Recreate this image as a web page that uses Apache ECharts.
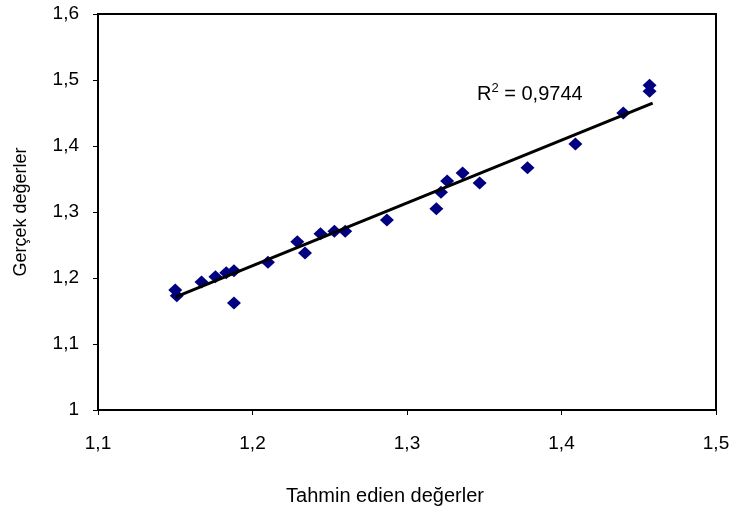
<!DOCTYPE html>
<html>
<head>
<meta charset="utf-8">
<style>
  html, body { margin: 0; padding: 0; background: #fff; }
  #chart { width: 734px; height: 514px; }
</style>
<script src="https://cdn.jsdelivr.net/npm/echarts@6/dist/echarts.min.js"></script>
</head>
<body>
<div id="chart"></div>
<script>
  // predicted (x) vs actual (y) values
  var predicted = [1.150, 1.151, 1.167, 1.176, 1.183, 1.188, 1.188, 1.210, 1.229, 1.234,
    1.244, 1.253, 1.260, 1.287, 1.319, 1.322, 1.326, 1.336, 1.347, 1.378,
    1.409, 1.440, 1.457, 1.457]
  var actual = [1.182, 1.173, 1.194, 1.202, 1.208, 1.211, 1.162, 1.224, 1.255, 1.238,
    1.267, 1.271, 1.271, 1.288, 1.305, 1.330, 1.347, 1.359, 1.344, 1.367,
    1.403, 1.450, 1.492, 1.483]
  // linear trend line end points
  var trendX = [1.150, 1.459]
  var trendY = [1.171, 1.465]
  var rSquared = '0,9744'

  var points = predicted.map(function (x, i) { return [x, actual[i]] })
  var trend = trendX.map(function (x, i) { return [x, trendY[i]] })

  function fmt(v) {
    return String(Math.round(v * 10) / 10).replace('.', ',')
  }

  var font = 'Liberation Sans, Arial, sans-serif'
  var chart = echarts.init(document.getElementById('chart'))
  chart.setOption({
    animation: false,
    textStyle: { fontFamily: font },
    grid: {
      left: 98,
      right: 18,
      top: 14,
      bottom: 104,
      show: true,
      borderColor: '#000',
      borderWidth: 2
    },
    xAxis: {
      type: 'value',
      min: 1.1,
      max: 1.5,
      interval: 0.1,
      name: 'Tahmin edien değerler',
      nameLocation: 'middle',
      nameGap: 76,
      nameTextStyle: { fontSize: 20, color: '#000', fontFamily: font, padding: [0, 44, 0, 0] },
      axisLine: { lineStyle: { color: '#000', width: 2 } },
      axisTick: { show: true, length: 5, lineStyle: { color: '#000', width: 1 } },
      axisLabel: { margin: 24, fontSize: 19, color: '#000', fontFamily: font, formatter: fmt },
      splitLine: { show: false }
    },
    yAxis: {
      type: 'value',
      min: 1,
      max: 1.6,
      interval: 0.1,
      name: 'Gerçek değerler',
      nameLocation: 'middle',
      nameGap: 68,
      nameTextStyle: { fontSize: 18, color: '#000', fontFamily: font },
      axisLine: { lineStyle: { color: '#000', width: 2 } },
      axisTick: { show: true, length: 5, lineStyle: { color: '#000', width: 1 } },
      axisLabel: { margin: 19, fontSize: 19, color: '#000', fontFamily: font, formatter: fmt },
      splitLine: { show: false }
    },
    graphic: [{
      type: 'text',
      left: 477,
      top: 82,
      style: {
        text: '{a|R}{s|2}{a| = ' + rSquared + '}',
        rich: {
          a: { fontSize: 20, fill: '#000', fontFamily: font, verticalAlign: 'bottom' },
          s: { fontSize: 13, fill: '#000', fontFamily: font, verticalAlign: 'top', padding: [0, 0, 9, 0] }
        }
      }
    }],
    series: [
      {
        type: 'scatter',
        data: points,
        symbol: 'diamond',
        symbolSize: [14, 13],
        itemStyle: { color: '#000080', opacity: 1 },
        z: 3
      },
      {
        type: 'line',
        data: trend,
        symbol: 'none',
        lineStyle: { color: '#000', width: 3 },
        z: 4
      }
    ]
  })
</script>
</body>
</html>
